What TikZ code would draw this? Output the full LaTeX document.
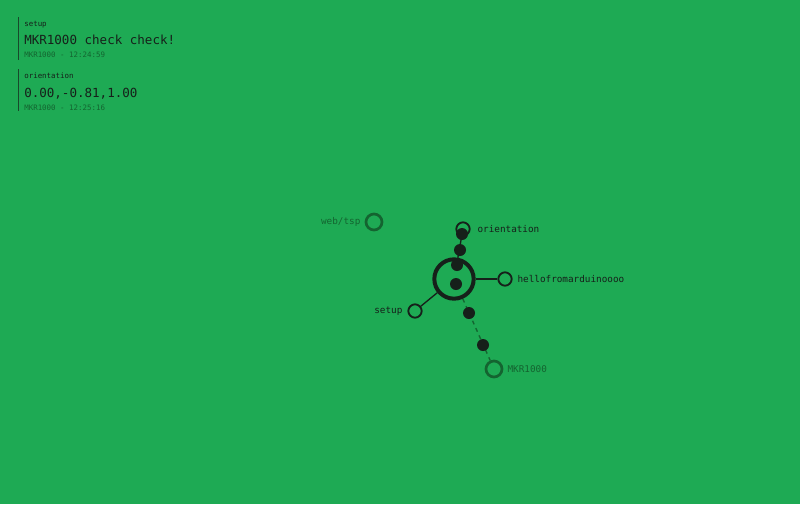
\documentclass[tikz,border=0pt]{standalone}
\usepackage{fontspec}
\setmonofont{DejaVu Sans Mono}
\definecolor{bggreen}{RGB}{30,170,84}
\definecolor{ink}{RGB}{22,32,26}
\definecolor{faded}{RGB}{20,100,48}
\tikzset{
  topic/.style={circle,draw=ink,line width=1.4pt,minimum size=#1,inner sep=0pt},
  topic/.default=10pt,
  oldtopic/.style={circle,draw=faded,line width=2pt,minimum size=12pt,inner sep=0pt},
  packet/.style={circle,fill=ink,minimum size=9pt,inner sep=0pt},
  lbl/.style={font=\ttfamily\fontsize{7}{8}\selectfont,text=ink,inner sep=0pt},
  msghead/.style={font=\ttfamily\fontsize{5.6}{6}\selectfont,text=ink,anchor=base west,inner sep=0pt},
  msgbody/.style={font=\ttfamily\fontsize{9.4}{10}\selectfont,text=ink,anchor=base west,inner sep=0pt},
  msgtime/.style={font=\ttfamily\fontsize{5.6}{6}\selectfont,text=faded,anchor=base west,inner sep=0pt}
}
\begin{document}
\begin{tikzpicture}[x=0.75pt,y=-0.75pt]
                    \fill[bggreen] (0,0) rectangle (800,504);
                    \useasboundingbox (0,0) rectangle (800,504);
                    % message log
                    \draw[ink!70!bggreen,line width=1.2pt] (18.5,17)--(18.5,60);
                    \node[msghead] (h1) at (24,26) {setup};
                    \node[msgbody] (b1) at (24,44) {MKR1000 check check!};
                    \node[msgtime] (t1) at (24,57) {MKR1000 - 12:24:59};
                    \draw[ink!70!bggreen,line width=1.2pt] (18.5,69)--(18.5,111);
                    \node[msghead] (h2) at (24,78) {orientation};
                    \node[msgbody] (b2) at (24,97) {0.00,-0.81,1.00};
                    \node[msgtime] (t2) at (24,110) {MKR1000 - 12:25:16};
                    % topics
                    \node[circle,draw=ink,line width=3pt,minimum size=29.5pt,inner sep=0pt] (hub) at (454,279) {};
                    \node[topic] (orient) at (463,229) {};
                    \node[topic] (hello) at (505,279) {};
                    \node[topic] (setup) at (415,311) {};
                    \node[oldtopic] (mkr) at (494,369) {};
                    \node[oldtopic] (web) at (374,222) {};
                    \draw[ink,line width=1pt] (hub)--(orient);
                    \draw[ink,line width=1pt] (hub)--(hello);
                    \draw[ink,line width=1pt] (hub)--(setup);
                    \draw[faded,line width=1pt,dashed] (hub)--(mkr);
                    \node[lbl,anchor=west] at ([xshift=5pt]orient.east) {orientation};
                    \node[lbl,anchor=west] at ([xshift=3.5pt]hello.east) {hellofromarduinoooo};
                    \node[lbl,anchor=east] at ([xshift=-3.5pt]setup.west) {setup};
                    \node[lbl,anchor=west,text=faded] at ([xshift=3pt]mkr.east) {MKR1000};
                    \node[lbl,anchor=east,text=faded] at ([xshift=-3pt]web.west) {web/tsp};
                    % messages in flight
                    \node[packet] (p1) at (462,234) {};
                    \node[packet] (p2) at (460,250) {};
                    \node[packet] (p3) at (457,265) {};
                    \node[packet] (p4) at (456,284) {};
                    \node[packet] (p5) at (469,313) {};
                    \node[packet] (p6) at (483,345) {};
                \end{tikzpicture}
\end{document}
